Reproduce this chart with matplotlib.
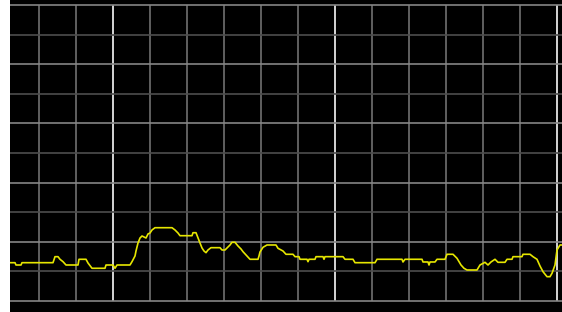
import matplotlib
matplotlib.use("Agg")
import matplotlib.pyplot as plt

# Trace breakpoints: sample index and level (dB)
sample_idx = [0, 5, 6, 11, 12, 43, 45, 48, 50, 53, 56, 68, 69, 76, 78, 82, 95, 96, 103,
              105, 107, 120, 122, 125, 126, 128, 130, 132, 134, 136, 138, 140, 142, 145,
              162, 165, 168, 170, 182, 183, 186, 188, 190, 192, 194, 196, 198, 201, 210,
              212, 215, 217, 220, 222, 225, 228, 231, 233, 237, 240, 248, 249, 250, 253,
              257, 266, 268, 273, 276, 283, 285, 289, 290, 297, 298, 299, 305, 306, 313,
              314, 315, 333, 335, 343, 345, 365, 367, 392, 393, 395, 412, 413, 418, 419,
              420, 425, 427, 435, 437, 443, 447, 451, 454, 457, 467, 470, 475, 478, 481,
              485, 488, 495, 497, 502, 503, 512, 513, 520, 523, 527, 530, 533, 537, 540,
              542, 545, 547, 550, 552]
level_db = [-87.06, -87.06, -87.84, -87.84, -87.06, -87.06, -85.03, -85.03, -85.91,
            -86.72, -87.84, -87.84, -85.91, -85.91, -87.16, -88.95, -88.95, -87.84,
            -87.84, -88.95, -87.84, -87.84, -86.72, -84.80, -83.11, -80.41, -78.72,
            -78.04, -78.38, -78.72, -77.36, -77.03, -76.01, -75.24, -75.24, -76.01,
            -77.03, -77.94, -77.94, -76.93, -76.93, -78.72, -80.41, -82.09, -83.11,
            -83.68, -82.77, -81.99, -81.99, -82.77, -82.77, -82.09, -81.08, -80.17,
            -80.17, -81.42, -82.43, -83.34, -84.80, -85.91, -85.91, -84.80, -83.45,
            -81.86, -81.08, -81.08, -82.20, -83.11, -84.22, -84.22, -85.03, -85.03,
            -85.91, -85.91, -86.72, -85.91, -85.91, -85.03, -85.03, -85.91, -85.03,
            -85.03, -85.91, -85.91, -87.06, -87.06, -85.91, -85.91, -86.82, -85.91,
            -85.91, -86.82, -86.82, -87.84, -86.82, -86.82, -85.91, -85.91, -84.22,
            -84.22, -85.57, -87.84, -88.95, -89.53, -89.53, -87.84, -86.93, -87.84,
            -86.82, -85.91, -86.93, -86.93, -85.91, -85.91, -85.03, -85.03, -84.22,
            -84.22, -85.03, -85.91, -88.18, -90.10, -91.79, -91.79, -90.64, -87.84,
            -82.77, -81.08, -81.08]

fig = plt.figure(figsize=(5.62, 3.12), dpi=100, facecolor="white")
ax = fig.add_axes([10 / 562, 0, 552 / 562, 1])
ax.set_facecolor("black")
ax.set_xlim(0, 552)
ax.set_ylim(-103.72, 1.69)
ax.set_xticks([])
ax.set_yticks([])
for s in ax.spines.values():
    s.set_visible(False)

div_x = 37
origin_x = 103
for k in range(-3, 13):
    xv = origin_x + k * div_x
    if xv < 0:
        continue
    bright = (k % 6 == 0)
    ax.plot([xv, xv], [-100, 0], color="#e6e6e6" if bright else "#7a7a7a",
            lw=1.3 if bright else 1.1, zorder=1, solid_capstyle="butt")
for j in range(11):
    yv = -j * 10
    ax.axhline(yv, color="#858585" if j % 2 == 0 else "#4d4d4d", lw=1.2, zorder=1)

ax.plot(sample_idx, level_db, color="#e6e600", lw=1.2, zorder=3)

fig.savefig("out.png", dpi=100, facecolor="white")
